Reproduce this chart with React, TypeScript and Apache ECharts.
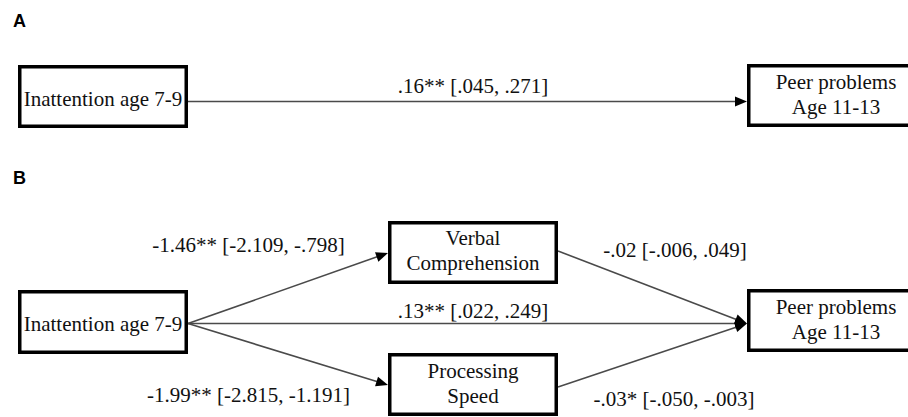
import React, { useEffect, useRef } from "react";
import * as echarts from "echarts";

// ---- Content (text / values) ----
const panelLabels = ["A", "B"];
const nodeLabels = [
  "Inattention age 7-9",
  "Peer problems\nAge 11-13",
  "Inattention age 7-9",
  "Verbal\nComprehension",
  "Processing\nSpeed",
  "Peer problems\nAge 11-13",
];
const coefficients = [".16**", "-1.46**", ".13**", "-1.99**", "-.02", "-.03*"];
const ciLower = [".045", "-2.109", ".022", "-2.815", "-.006", "-.050"];
const ciUpper = [".271", "-.798", ".249", "-1.191", ".049", "-.003"];

// ---- Layout (in the 908 x 417 coordinate space of the hidden axes) ----
const panelPos = [
  [13, 21],
  [13, 178],
];
// [left, top, right, bottom, textCenterY]
const nodeBox = [
  [18, 65, 188, 128, 99],
  [747, 64, 925, 127, 94.5],
  [18, 290, 188, 354, 324],
  [388, 221, 558, 284, 250.5],
  [388, 353, 558, 416, 383],
  [747, 289, 925, 352, 319],
];
// [x1, y1, x2, y2, labelX, labelY]
const edgeGeom = [
  [188, 101.5, 747, 101.5, 473, 86],
  [188, 323.5, 388, 253, 248.5, 245],
  [188, 323.5, 747, 323.5, 473, 311],
  [188, 323.5, 388, 385, 248.5, 395],
  [558, 251, 747, 323.5, 675, 250],
  [558, 387, 747, 323.5, 674, 399],
];

const SERIF_FONT = "21px \"Liberation Serif\", \"Times New Roman\", serif";
const TEXT_COLOR = "#111111";

export default function App() {
  const ref = useRef<HTMLDivElement>(null);

  useEffect(() => {
    if (!ref.current) return;
    const chart = echarts.init(ref.current, null, { renderer: "svg" });

    const option: any = {
      animation: false,
      backgroundColor: "#ffffff",
      textStyle: { fontFamily: "Liberation Serif" },
      grid: { left: 0, right: 0, top: 0, bottom: 0, containLabel: false },
      xAxis: { type: "value", min: 0, max: 908, show: false },
      yAxis: { type: "value", min: 0, max: 417, inverse: true, show: false },
      series: [
        {
          type: "custom",
          name: "paths",
          silent: true,
          clip: false,
          data: coefficients.map((_, i) => [i, 0]),
          renderItem: (params: any, api: any) => {
            const i = api.value(0);
            const e = edgeGeom[i];
            const a = api.coord([e[0], e[1]]);
            const b = api.coord([e[2], e[3]]);
            const lp = api.coord([e[4], e[5]]);
            const dx = b[0] - a[0];
            const dy = b[1] - a[1];
            const len = Math.hypot(dx, dy);
            const ux = dx / len;
            const uy = dy / len;
            const L = 12;
            const W = 5;
            const bx = b[0] - ux * L;
            const by = b[1] - uy * L;
            const px = -uy;
            const py = ux;
            return {
              type: "group",
              children: [
                {
                  type: "line",
                  shape: { x1: a[0], y1: a[1], x2: b[0] - ux * (L - 2), y2: b[1] - uy * (L - 2) },
                  style: { stroke: "#4a4a4a", lineWidth: 1.6 },
                },
                {
                  type: "polygon",
                  shape: {
                    points: [
                      [b[0], b[1]],
                      [bx + px * W, by + py * W],
                      [bx - px * W, by - py * W],
                    ],
                  },
                  style: { fill: "#000000" },
                },
                {
                  type: "text",
                  style: {
                    text: `${coefficients[i]} [${ciLower[i]}, ${ciUpper[i]}]`,
                    x: lp[0],
                    y: lp[1],
                    align: "center",
                    verticalAlign: "middle",
                    fill: TEXT_COLOR,
                    font: SERIF_FONT,
                  },
                },
              ],
            };
          },
        },
        {
          type: "custom",
          name: "variables",
          silent: true,
          clip: false,
          data: nodeLabels.map((_, i) => [i, 0]),
          renderItem: (params: any, api: any) => {
            const i = api.value(0);
            const b = nodeBox[i];
            const p0 = api.coord([b[0], b[1]]);
            const p1 = api.coord([b[2], b[3]]);
            const cy = api.coord([0, b[4]])[1];
            const bw = 3.5;
            return {
              type: "group",
              children: [
                {
                  type: "rect",
                  shape: {
                    x: p0[0] + bw / 2,
                    y: p0[1] + bw / 2,
                    width: p1[0] - p0[0] - bw,
                    height: p1[1] - p0[1] - bw,
                  },
                  style: { fill: "#ffffff", stroke: "#000000", lineWidth: bw },
                },
                {
                  type: "text",
                  style: {
                    text: nodeLabels[i],
                    x: (p0[0] + p1[0]) / 2,
                    y: cy,
                    align: "center",
                    verticalAlign: "middle",
                    fill: TEXT_COLOR,
                    font: SERIF_FONT,
                    lineHeight: 25,
                  },
                },
              ],
            };
          },
        },
        {
          type: "custom",
          name: "panels",
          silent: true,
          clip: false,
          data: panelLabels.map((_, i) => [i, 0]),
          renderItem: (params: any, api: any) => {
            const i = api.value(0);
            const p = api.coord(panelPos[i]);
            return {
              type: "text",
              style: {
                text: panelLabels[i],
                x: p[0],
                y: p[1],
                align: "left",
                verticalAlign: "middle",
                fill: "#000000",
                font: "bold 18px \"Liberation Sans\", Arial, sans-serif",
              },
            };
          },
        },
      ],
    };

    chart.setOption(option);
    return () => {
      chart.dispose();
    };
  }, []);

  return (
    <div
      ref={ref}
      style={{
        position: "fixed",
        left: 0,
        top: 0,
        width: "908px",
        height: "417px",
        background: "#ffffff",
      }}
    />
  );
}
